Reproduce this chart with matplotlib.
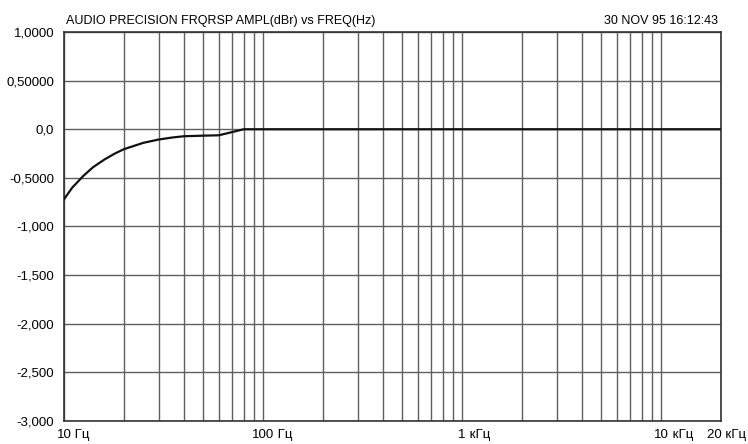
import matplotlib.pyplot as plt
from matplotlib.ticker import FixedLocator, NullFormatter

plt.rcParams['font.family'] = ['Liberation Sans', 'DejaVu Sans']

# frequency response measured (Hz, dBr)
freq = [10, 11, 12.5, 14, 16, 18, 20, 25, 30, 35, 40, 50, 60, 80,
        100, 200, 500, 1000, 2000, 5000, 10000, 20000]
ampl = [-0.72, -0.6, -0.48, -0.39, -0.31, -0.25, -0.205, -0.14, -0.105,
        -0.085, -0.072, -0.066, -0.062, 0.0,
        0.0, 0.0, 0.0, 0.0, 0.0, 0.0, 0.0, 0.0]

y_ticks = [1.0, 0.5, 0.0, -0.5, -1.0, -1.5, -2.0, -2.5, -3.0]
y_labels = ['1,0000', '0,50000', '0,0', '-0,5000', '-1,000', '-1,500',
            '-2,000', '-2,500', '-3,000']
x_major = [10, 100, 1000, 10000]
x_nums = ['10', '100', '1', '10']
x_units = [' Гц', ' Гц', ' кГц', ' кГц']
x_last = '20 кГц'

grid_x = [m * d for d in [10, 100, 1000] for m in range(1, 10)] + [10000, 20000]

fs = 9

fig = plt.figure(figsize=(7.48, 4.44), dpi=100)
ax = fig.add_axes([64 / 748, 23 / 444, 657 / 748, 389 / 444])

ax.set_xscale('log')
ax.set_xlim(10, 20000)
ax.set_ylim(-3, 1)

ax.plot(freq, ampl, color='#111111', lw=1.6, zorder=3)

ax.xaxis.set_major_locator(FixedLocator(grid_x))
ax.xaxis.set_minor_locator(FixedLocator([]))
ax.xaxis.set_major_formatter(NullFormatter())
ax.xaxis.set_minor_formatter(NullFormatter())
ax.set_yticks(y_ticks)
ax.set_yticklabels(y_labels, fontsize=fs + 0.5)
ax.tick_params(length=0, pad=7)
ax.grid(True, color='#5f5f5f', lw=1.0)

for sp in ax.spines.values():
    sp.set_color('#333333')
    sp.set_linewidth(1.2)

# x labels: number centred on the grid line, unit appended after it
for f, n, u in zip(x_major, x_nums, x_units):
    t = ax.annotate(n, xy=(f, 0), xycoords=('data', 'axes fraction'),
                    xytext=(0, -6), textcoords='offset points',
                    ha='center', va='top', fontsize=fs + 0.5)
    ax.annotate(u, xy=(1, 0), xycoords=t, ha='left', va='bottom', fontsize=fs + 0.5)
# last label is pushed left to stay inside the picture
ax.annotate(x_last, xy=(1, 0), xycoords='axes fraction',
            xytext=(18, -6), textcoords='offset points',
            ha='right', va='top', fontsize=fs + 0.5)

ax.text(0.003, 1.012, 'AUDIO PRECISION FRQRSP AMPL(dBr) vs FREQ(Hz)',
        transform=ax.transAxes, ha='left', va='bottom', fontsize=fs)
ax.text(0.995, 1.012, '30 NOV 95 16:12:43',
        transform=ax.transAxes, ha='right', va='bottom', fontsize=fs)

fig.savefig('out.png', dpi=100)
